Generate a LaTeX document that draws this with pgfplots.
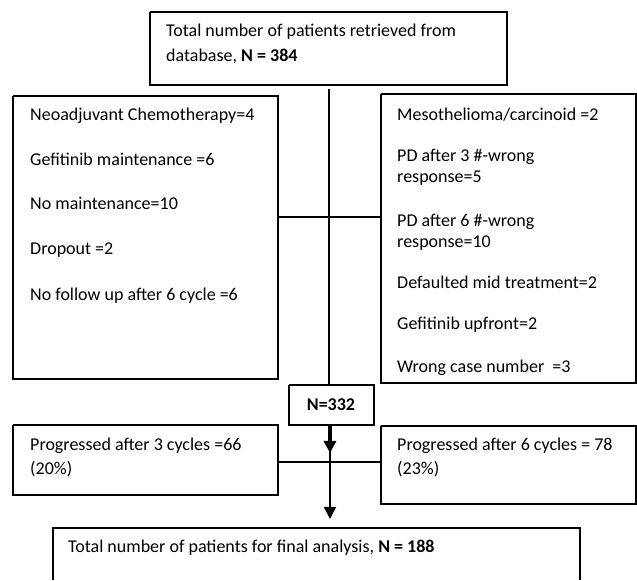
\documentclass[border=0pt]{standalone}
\usepackage{pgfplots}
\pgfplotsset{compat=1.18}
\usepackage{fontspec}
\setmainfont{Carlito}
\usetikzlibrary{arrows.meta}
\tikzset{txt/.style={anchor=base west, inner sep=0pt, font=\fontsize{18bp}{21bp}\selectfont, text=black}}
\begin{document}
\begin{tikzpicture}
\begin{axis}[
  scale only axis, width=637bp, height=580bp,
  xmin=0, xmax=637, ymin=0, ymax=580, y dir=reverse,
  hide axis, clip=false,
  cycle list={{black, solid, mark=none}},
  every axis plot/.append style={line width=1.6bp},
]
% invisible frame for bounding box
\addplot[draw=none] coordinates {(0,0) (637,580)};
% boxes
\addplot coordinates {(150,12) (507,12) (507,85) (150,85) (150,12)};
\addplot coordinates {(13,96) (278,96) (278,379) (13,379) (13,96)};
\addplot coordinates {(381,94) (636,94) (636,383) (381,383) (381,94)};
\addplot coordinates {(289,385) (374,385) (374,425) (289,425) (289,385)};
\addplot coordinates {(13,425) (278,425) (278,495) (13,495) (13,425)};
\addplot coordinates {(381,426) (636,426) (636,504) (381,504) (381,426)};
\addplot coordinates {(53,580) (53,528) (580,528) (580,580)};
% connectors
\addplot[black, line width=1.4bp] coordinates {(329,89) (329,385)};
\addplot[black, line width=1.2bp] coordinates {(278,217) (381,217)};
\addplot[black, line width=1.2bp] coordinates {(278,462) (381,462)};
\addplot[black, line width=1.4bp, -{Triangle[length=12bp,width=12bp]}] coordinates {(330,450) (330,519)};
\addplot[black, line width=3.2bp, -{Triangle[length=12bp,width=12bp]}] coordinates {(330,425) (330,453)};
% texts
\node[txt] at (axis cs:166,37) {Total number of patients retrieved from};
\node[txt] at (axis cs:166,62) {database, \textbf{N = 384}};
\node[txt] at (axis cs:30,121) {Neoadjuvant Chemotherapy=4};
\node[txt] at (axis cs:30,166) {Gefitinib maintenance =6};
\node[txt] at (axis cs:30,210) {No maintenance=10};
\node[txt] at (axis cs:30,255) {Dropout =2};
\node[txt] at (axis cs:30,301) {No follow up after 6 cycle =6};
\node[txt] at (axis cs:397,121) {Mesothelioma/carcinoid =2};
\node[txt] at (axis cs:397,162) {PD after 3 \#-wrong};
\node[txt] at (axis cs:397,183) {response=5};
\node[txt] at (axis cs:397,227) {PD after 6 \#-wrong};
\node[txt] at (axis cs:397,248) {response=10};
\node[txt] at (axis cs:397,289) {Defaulted mid treatment=2};
\node[txt] at (axis cs:397,330) {Gefitinib upfront=2};
\node[txt] at (axis cs:397,373) {Wrong case number\ \ =3};
\node[txt, anchor=base] at (axis cs:331,411) {\textbf{N=332}};
\node[txt] at (axis cs:30,451) {Progressed after 3 cycles =66};
\node[txt] at (axis cs:30,475) {(20\%)};
\node[txt] at (axis cs:397,451) {Progressed after 6 cycles = 78};
\node[txt] at (axis cs:397,475) {(23\%)};
\node[txt] at (axis cs:68,553) {Total number of patients for final analysis, \textbf{N = 188}};
\end{axis}
\end{tikzpicture}
\end{document}
